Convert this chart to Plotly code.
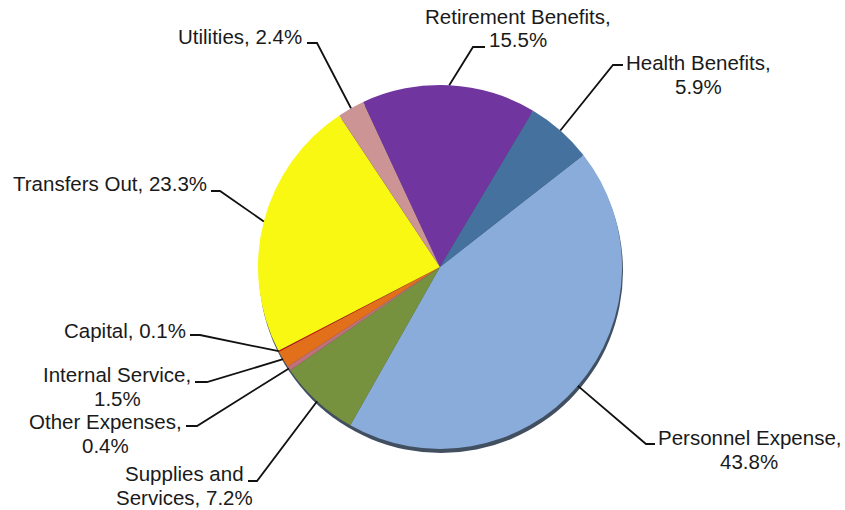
import math
import plotly.graph_objects as go

# Expenditure shares (percent), listed clockwise starting from Personnel Expense
labels = ["Personnel Expense", "Supplies and Services", "Other Expenses",
          "Internal Service", "Capital", "Transfers Out", "Utilities",
          "Retirement Benefits", "Health Benefits"]
shares = [43.8, 7.2, 0.4, 1.5, 0.1, 23.3, 2.4, 15.5, 5.9]
colors = ["#89ACDA", "#77923E", "#C0707A", "#E2701A", "#E00000",
          "#F8F812", "#CC9494", "#7135A0", "#45719F"]

# where each label wraps onto a second line
wrap_after = {
    "Personnel Expense": ",",
    "Supplies and Services": "and",
    "Other Expenses": ",",
    "Internal Service": ",",
    "Retirement Benefits": ",",
    "Health Benefits": ",",
}

W, H = 845, 510
CX, CY, R = 440, 267, 182
ROTATION = 52
FONT_SIZE = 20.5
LINE_GAP = 24

# label block centre (px) and leader elbow / tick end (px)
label_pos = {
    "Personnel Expense": (749, 449),
    "Supplies and Services": (184, 485),
    "Other Expenses": (105, 433),
    "Internal Service": (117, 386),
    "Capital": (125, 330),
    "Transfers Out": (110, 183),
    "Utilities": (240, 37),
    "Retirement Benefits": (518, 28),
    "Health Benefits": (698, 74),
}
elbow = {
    "Personnel Expense": ((646, 444), (655, 444)),
    "Supplies and Services": ((257, 481), (248, 481)),
    "Other Expenses": ((197, 426), (186, 426)),
    "Internal Service": ((207, 382), (195, 382)),
    "Capital": ((200, 335), (190, 335)),
    "Transfers Out": ((220, 191), (211, 191)),
    "Utilities": ((317, 43), (307, 43)),
    "Retirement Benefits": ((473, 47), (485, 47)),
    "Health Benefits": ((613, 65), (623, 65)),
}


def px(x, y):
    return x / W, 1 - y / H


fig = go.Figure()

dom_x = [(CX - R) / W, (CX + R) / W]
dom_y = [1 - (CY + R) / H, 1 - (CY - R) / H]

fig.add_trace(go.Pie(
    labels=labels,
    values=shares,
    sort=False,
    direction="clockwise",
    rotation=ROTATION,
    marker=dict(colors=colors, line=dict(width=0)),
    textinfo="none",
    hoverinfo="label+percent",
    showlegend=False,
    domain=dict(x=dom_x, y=dom_y),
))

shapes = []
# drop shadow under the pie
sx0, sy0 = px(CX - R + 1, CY - R + 4)
sx1, sy1 = px(CX + R + 1, CY + R + 4)
shapes.append(dict(type="circle", xref="paper", yref="paper",
                   x0=sx0, x1=sx1, y0=sy1, y1=sy0,
                   fillcolor="rgba(45,60,80,0.9)", line=dict(width=0),
                   layer="below"))

annotations = []
total = sum(shares)
cum = 0.0
for name, v in zip(labels, shares):
    mid = ROTATION + (cum + v / 2) / total * 360
    cum += v
    a = math.radians(mid)
    ex, ey = CX + R * math.sin(a), CY - R * math.cos(a)
    (bx, by), (tx, ty) = elbow[name]
    p = [px(ex, ey), px(bx, by), px(tx, ty)]
    path = "M {} {} L {} {} L {} {}".format(p[0][0], p[0][1], p[1][0], p[1][1],
                                           p[2][0], p[2][1])
    shapes.append(dict(type="path", xref="paper", yref="paper", path=path,
                       line=dict(color="#111111", width=1.8)))

    text = f"{name}, {v:.1f}%"
    tok = wrap_after.get(name)
    if tok:
        i = text.index(tok) + len(tok)
        lines = [text[:i], text[i:].lstrip()]
    else:
        lines = [text]
    lx, ly = label_pos[name]
    n = len(lines)
    for k, line in enumerate(lines):
        yy = ly + (k - (n - 1) / 2) * LINE_GAP
        ax_, ay_ = px(lx, yy)
        annotations.append(dict(x=ax_, y=ay_, xref="paper", yref="paper",
                                text=line, showarrow=False,
                                xanchor="center", yanchor="middle",
                                font=dict(family="Liberation Sans, Arial",
                                          size=FONT_SIZE, color="#1a1a1a")))

fig.update_layout(
    width=W, height=H,
    margin=dict(l=0, r=0, t=0, b=0),
    paper_bgcolor="white",
    plot_bgcolor="white",
    shapes=shapes,
    annotations=annotations,
)

fig.write_html("out.html")
